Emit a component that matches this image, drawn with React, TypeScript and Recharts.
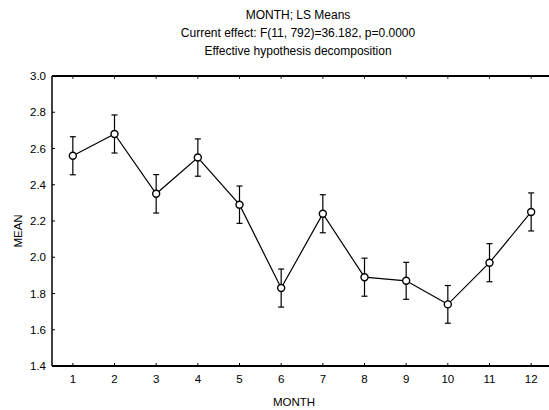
import React from 'react';
import { LineChart, Line, XAxis, YAxis, ErrorBar, ReferenceLine } from 'recharts';

const months = [1, 2, 3, 4, 5, 6, 7, 8, 9, 10, 11, 12];
const means = [2.56, 2.68, 2.35, 2.55, 2.29, 1.83, 2.24, 1.89, 1.87, 1.74, 1.97, 2.25];
const errors = [0.105, 0.105, 0.106, 0.103, 0.103, 0.105, 0.105, 0.105, 0.102, 0.104, 0.105, 0.105];
const yTicks = [1.4, 1.6, 1.8, 2.0, 2.2, 2.4, 2.6, 2.8, 3.0];

const titleLines = [
  'MONTH; LS Means',
  'Current effect: F(11, 792)=36.182, p=0.0000',
  'Effective hypothesis decomposition',
];

const data = months.map((m, i) => ({ month: m, mean: means[i], err: errors[i] }));

const font = '"Liberation Sans", Arial, sans-serif';

// tick label + petit trait vers l'intérieur
const XTick = (props: any) => {
  const { x, y, payload } = props;
  const axisY = y - 9;
  return (
    <g>
      <line x1={x} y1={axisY} x2={x} y2={axisY - 3} stroke="#000" strokeWidth={1} />
      <text x={x} y={y} dy="0.71em" textAnchor="middle" fontSize={11.5} fill="#000" fontFamily={font}>
        {payload.value}
      </text>
    </g>
  );
};

const YTick = (props: any) => {
  const { x, y, payload } = props;
  const axisX = x + 6;
  return (
    <g>
      <line x1={axisX} y1={y} x2={axisX + 3} y2={y} stroke="#000" strokeWidth={1} />
      <text x={x} y={y} dy="0.355em" textAnchor="end" fontSize={11.5} fill="#000" fontFamily={font}>
        {Number(payload.value).toFixed(1)}
      </text>
    </g>
  );
};

const App = () => {
  return (
    <div
      style={{
        position: 'absolute',
        left: 0,
        top: 0,
        width: 549,
        height: 410,
        overflow: 'hidden',
        background: '#fff',
        fontFamily: font,
        color: '#000',
      }}
    >
      {titleLines.map((t, i) => (
        <div
          key={t}
          style={{
            position: 'absolute',
            left: 148,
            width: 300,
            top: [8, 26, 44][i],
            textAlign: 'center',
            fontSize: 12,
            lineHeight: '14px',
          }}
        >
          {t}
        </div>
      ))}

      <div
        style={{
          position: 'absolute',
          left: 18,
          top: 231,
          transform: 'translate(-50%, -50%) rotate(-90deg)',
          fontSize: 11.5,
          lineHeight: '14px',
        }}
      >
        MEAN
      </div>
      <div
        style={{
          position: 'absolute',
          left: 244,
          width: 100,
          top: 395,
          textAlign: 'center',
          fontSize: 11.5,
          lineHeight: '14px',
        }}
      >
        MONTH
      </div>

      <LineChart
        width={600}
        height={410}
        data={data}
        margin={{ top: 76, right: 48, bottom: 14, left: 0 }}
        style={{ position: 'absolute', left: 0, top: 0 }}
      >
        <XAxis
          dataKey="month"
          type="number"
          domain={[0.5, 12.5]}
          ticks={months}
          axisLine={{ stroke: '#000', strokeWidth: 2 }}
          tickLine={false}
          tickSize={6}
          tickMargin={3}
          height={30}
          tick={<XTick />}
        />
        <YAxis
          type="number"
          domain={[1.4, 3.0]}
          ticks={yTicks}
          width={52}
          axisLine={{ stroke: '#000', strokeWidth: 1.5 }}
          tickLine={false}
          tickSize={6}
          tickMargin={0}
          tick={<YTick />}
        />
        <ReferenceLine y={3.0} stroke="#000" strokeWidth={2} />
        {months.map((m) => (
          <ReferenceLine
            key={m}
            segment={[
              { x: m, y: 3.0 },
              { x: m, y: 2.985 },
            ]}
            stroke="#000"
            strokeWidth={1}
          />
        ))}
        <Line
          dataKey="mean"
          stroke="#000"
          strokeWidth={1.2}
          isAnimationActive={false}
          dot={{ r: 3.5, stroke: '#000', strokeWidth: 1.4, fill: '#fff' }}
          activeDot={false}
        >
          <ErrorBar
            dataKey="err"
            direction="y"
            width={3}
            stroke="#000"
            strokeWidth={1.2}
            isAnimationActive={false}
          />
        </Line>
      </LineChart>
    </div>
  );
};

export default App;
